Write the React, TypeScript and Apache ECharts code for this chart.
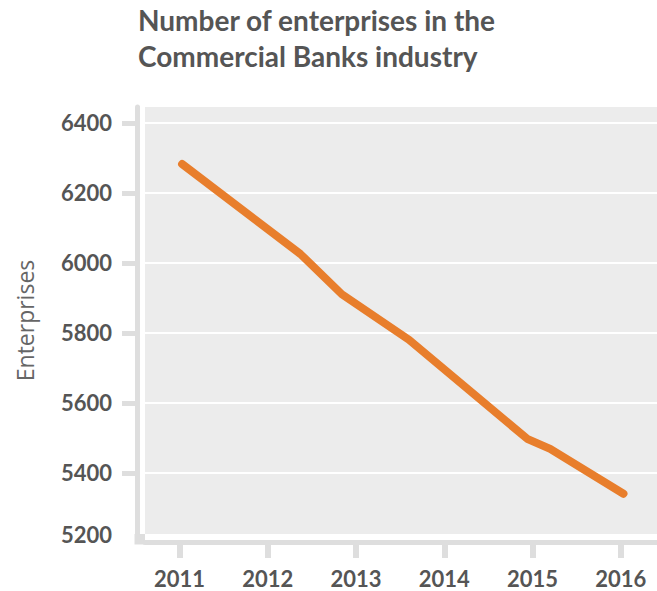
import React, { useEffect, useRef } from "react";
import * as echarts from "echarts";

const titleText = "Number of enterprises in the\nCommercial Banks industry";
const yAxisName = "Enterprises";
const xValues = [2011.03, 2012.37, 2012.84, 2013.6, 2014.94, 2015.2, 2016.03];
const enterprises = [6282, 6025, 5910, 5780, 5497, 5468, 5340];
const xTicks = [2011, 2012, 2013, 2014, 2015, 2016];
const yTicks = [5400, 5600, 5800, 6000, 6200, 6400];
const yLabels = [5225, 5400, 5600, 5800, 6000, 6200, 6400];

export default function App() {
  const ref = useRef<HTMLDivElement>(null);
  useEffect(() => {
    document.body.style.margin = "0";
    const chart = echarts.init(ref.current!, null, { renderer: "svg" });
    const labelFont = { fontFamily: "Lato", fontWeight: "bold" as const, fontSize: 22, color: "#555555" };
    chart.setOption({
      animation: false,
      title: {
        text: titleText,
        left: 133,
        top: -3,
        textStyle: { fontFamily: "Lato", fontWeight: "bold", fontSize: 28, color: "#555555", lineHeight: 36 },
      },
      grid: { left: 145, right: 0, top: 107, bottom: 57, show: true, backgroundColor: "#ececec", borderWidth: 0 },
      xAxis: {
        type: "value",
        min: 2010.61,
        max: 2016.41,
        offset: 8,
        axisLine: { show: true, lineStyle: { color: "#dedede", width: 5 } },
        axisTick: { show: true, length: 16, lineStyle: { color: "#dedede", width: 6 }, customValues: xTicks },
        axisLabel: { ...labelFont, margin: 25, customValues: xTicks, formatter: (v: number) => String(Math.round(v)) },
        splitLine: { show: false },
      },
      yAxis: {
        type: "value",
        min: 5225,
        max: 6445,
        offset: 8,
        name: yAxisName,
        nameLocation: "middle",
        nameGap: 101,
        nameTextStyle: { fontFamily: "Open Sans", fontSize: 23, color: "#666666" },
        axisLine: { show: true, lineStyle: { color: "#dedede", width: 5 } },
        axisTick: { show: true, length: 15, lineStyle: { color: "#dedede", width: 5 }, customValues: yTicks },
        axisLabel: {
          ...labelFont,
          margin: 25,
          customValues: yLabels,
          formatter: (v: number) => String(Math.round(v / 200) * 200),
        },
        splitLine: { show: true, lineStyle: { color: "#ffffff", width: 2 } },
      },
      graphic: [
        { type: "rect", shape: { x: 134.5, y: 534, width: 10.5, height: 10.5 }, style: { fill: "#dedede" }, silent: true },
      ],
      series: [
        {
          type: "line",
          data: xValues.map((x, i) => [x, enterprises[i]]),
          showSymbol: false,
          symbol: "none",
          lineStyle: { color: "#e87e2c", width: 8, cap: "round", join: "round" },
          itemStyle: { color: "#e87e2c" },
        },
      ],
    });
    return () => chart.dispose();
  }, []);
  return <div ref={ref} style={{ width: 657, height: 591 }} />;
}
